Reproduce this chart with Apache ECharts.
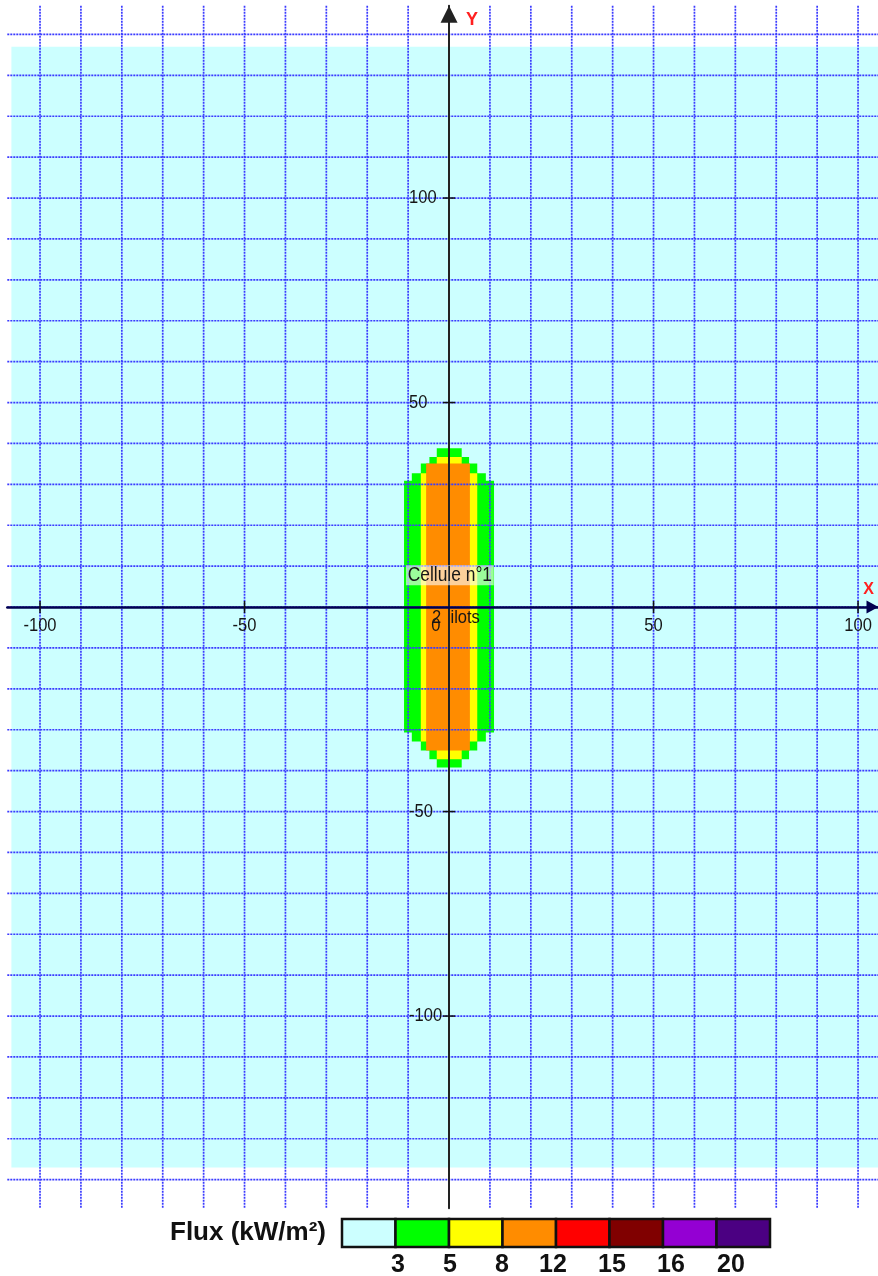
<!DOCTYPE html>
<html><head><meta charset="utf-8">
<script src="https://cdn.jsdelivr.net/npm/echarts@6/dist/echarts.min.js"></script>
<style>html,body{margin:0;padding:0;background:#fff;}#chart{width:878px;height:1276px;}</style>
</head><body><div id="chart"></div>
<script>
// ---- data ----
const fluxThresholds = [3, 5, 8, 12, 15, 16, 20];
const fluxColors = ['#CCFFFF', '#00FF00', '#FFFF00', '#FF8C00', '#FF0000', '#800000', '#9400D3', '#4B0082'];

// iso-flux zones as [xMin, xMax, yMin, yMax] (m)
const zoneBelow3 = [[-107, 107, -137, 137]];
const zone3 = [[-11, 11, -30.7, 30.9], [-9.1, 9, -32.9, 32.7], [-6.9, 6.9, -35.1, 35.1], [-4.8, 4.9, -37.2, 36.7], [-3, 3.1, -39.2, 38.8]];
const zone5 = [[-6.9, 6.9, -32.9, 32.7], [-3, 3.1, -37.2, 36.7]];
const zone8 = [[-5.6, 5.1, -35.1, 35.1]];

const gridXValues = [-100, -90, -80, -70, -60, -50, -40, -30, -20, -10, 0, 10, 20, 30, 40, 50, 60, 70, 80, 90, 100];
const gridYValues = [-140, -130, -120, -110, -100, -90, -80, -70, -60, -50, -40, -30, -20, -10, 0, 10, 20, 30, 40, 50, 60, 70, 80, 90, 100, 110, 120, 130, 140];
const xTickValues = [-100, -50, 50, 100];
const yTickValues = [-100, -50, 50, 100];
const annotations = [
  {text: 'Cellule n°1', pos: [0.2, 7.8], boxed: true},
  {text: '2  ilots', pos: [1.7, -2.7], boxed: false},
  {text: '0', pos: [-3.2, -4.6], boxed: false}
];

// ---- styles ----
const SANS = '"Liberation Sans", Arial, sans-serif';
const GRID_COLOR = '#3a3aff';
const NARROW_SCALE = 0.87;

function rectSeries(data, color, z) {
  return {
    type: 'custom', data: data, z: z, clip: true, silent: true,
    renderItem: function (params, api) {
      const p0 = api.coord([api.value(0), api.value(3)]);
      const p1 = api.coord([api.value(1), api.value(2)]);
      return {type: 'rect', shape: {x: p0[0], y: p0[1], width: p1[0] - p0[0], height: p1[1] - p0[1]}, style: {fill: color}};
    }
  };
}

const chart = echarts.init(document.getElementById('chart'), null, {renderer: 'canvas'});

const legendGraphics = [];
const boxW = 53.5, boxH = 28, boxX0 = 342, boxY0 = 1219;
const legendLabelX = [398, 450, 502, 553, 612, 671, 731];
fluxColors.forEach(function (c, i) {
  legendGraphics.push({type: 'rect', shape: {x: boxX0 + i * boxW, y: boxY0, width: boxW, height: boxH},
    style: {fill: c, stroke: '#111', lineWidth: 2.5}});
});
fluxThresholds.forEach(function (t, i) {
  legendGraphics.push({type: 'text', x: legendLabelX[i], y: 1265,
    style: {text: String(t), font: 'bold 25px ' + SANS, fill: '#111', align: 'center', verticalAlign: 'middle', textAlign: 'center', textVerticalAlign: 'middle'}});
});
legendGraphics.push({type: 'text', x: 170, y: 1233,
  style: {text: 'Flux (kW/m²)', font: 'bold 26px ' + SANS, fill: '#111', align: 'left', verticalAlign: 'middle', textAlign: 'left', textVerticalAlign: 'middle'}});

function narrowText(x, y, text, size, align, extra) {
  const style = {text: text, fill: '#161616', fontSize: size, fontFamily: SANS, align: align, verticalAlign: 'middle'};
  if (extra) { Object.assign(style, extra); }
  return {type: 'text', x: x, y: y, scaleX: NARROW_SCALE, originX: 0, originY: 0, style: style};
}

const option = {
  animation: false,
  backgroundColor: '#ffffff',
  grid: {left: 7.3, top: 5.8, width: 871.2, height: 1202.5, containLabel: false, outerBoundsMode: 'none'},
  xAxis: {
    type: 'value', min: -108, max: 105, z: 6,
    axisLine: {onZero: true, lineStyle: {color: '#000050', width: 2.5}, symbol: ['none', 'triangle'], symbolSize: [13, 12], symbolOffset: [0, -6]},
    axisTick: {show: false}, splitLine: {show: false}, axisLabel: {show: false},
    name: 'X', nameLocation: 'end', nameGap: -10, nameMoveOverlap: false,
    nameTextStyle: {color: '#ff2020', fontSize: 16, fontWeight: 'bold', fontFamily: SANS, align: 'center', verticalAlign: 'bottom', padding: [0, 0, 9, 0]}
  },
  yAxis: {
    type: 'value', min: -147, max: 147, z: 6,
    axisLine: {onZero: true, lineStyle: {color: '#222', width: 2}, symbol: ['none', 'triangle'], symbolSize: [17, 17], symbolOffset: [0, -8.5]},
    axisTick: {show: false}, splitLine: {show: false}, axisLabel: {show: false},
    name: 'Y', nameLocation: 'end', nameGap: -14, nameMoveOverlap: false,
    nameTextStyle: {color: '#ff2020', fontSize: 18, fontWeight: 'bold', fontFamily: SANS, align: 'left', verticalAlign: 'middle', padding: [0, 0, 0, 17]}
  },
  graphic: legendGraphics,
  series: [
    rectSeries(zoneBelow3, fluxColors[0], 1),
    rectSeries(zone3, fluxColors[1], 2),
    rectSeries(zone5, fluxColors[2], 3),
    rectSeries(zone8, fluxColors[3], 4),
    { // vertical grid lines
      type: 'custom', z: 5, silent: true, data: gridXValues.map(function (v) { return [v, 0]; }),
      renderItem: function (params, api) {
        const cs = params.coordSys; const x = api.coord([api.value(0), 0])[0];
        return {type: 'line', shape: {x1: x, y1: cs.y, x2: x, y2: cs.y + cs.height}, style: {stroke: GRID_COLOR, lineWidth: 1.7, lineDash: [2, 1]}};
      }
    },
    { // horizontal grid lines
      type: 'custom', z: 5, silent: true, data: gridYValues.map(function (v) { return [0, v]; }),
      renderItem: function (params, api) {
        const cs = params.coordSys; const y = api.coord([0, api.value(1)])[1];
        return {type: 'line', shape: {x1: cs.x, y1: y, x2: cs.x + cs.width, y2: y}, style: {stroke: GRID_COLOR, lineWidth: 1.7, lineDash: [2, 1]}};
      }
    },
    { // x ticks + labels
      type: 'custom', z: 7, silent: true, data: xTickValues.map(function (v) { return [v, 0]; }),
      renderItem: function (params, api) {
        const p = api.coord([api.value(0), 0]);
        return {type: 'group', children: [
          {type: 'line', shape: {x1: p[0], y1: p[1] - 6, x2: p[0], y2: p[1] + 6}, style: {stroke: '#111', lineWidth: 1.5}},
          narrowText(p[0], p[1] + 19, String(xTickValues[params.dataIndex]), 19, 'center')
        ]};
      }
    },
    { // y ticks + labels
      type: 'custom', z: 7, silent: true, data: yTickValues.map(function (v) { return [0, v]; }),
      renderItem: function (params, api) {
        const p = api.coord([0, api.value(1)]);
        return {type: 'group', children: [
          {type: 'line', shape: {x1: p[0] - 6, y1: p[1], x2: p[0] + 6, y2: p[1]}, style: {stroke: '#111', lineWidth: 1.5}},
          narrowText(p[0] - 40, p[1], String(yTickValues[params.dataIndex]), 19, 'left')
        ]};
      }
    },
    { // annotations
      type: 'custom', z: 8, silent: true,
      data: annotations.map(function (a) { return [a.pos[0], a.pos[1]]; }),
      renderItem: function (params, api) {
        const a = annotations[params.dataIndex];
        const p = api.coord([api.value(0), api.value(1)]);
        const extra = a.boxed ? {backgroundColor: 'rgba(250,250,250,0.62)', padding: [0, 2, 0, 2]} : null;
        return narrowText(p[0], p[1], a.text, a.boxed ? 20 : 19, 'center', extra);
      }
    }
  ]
};
chart.setOption(option);
</script>
</body></html>
